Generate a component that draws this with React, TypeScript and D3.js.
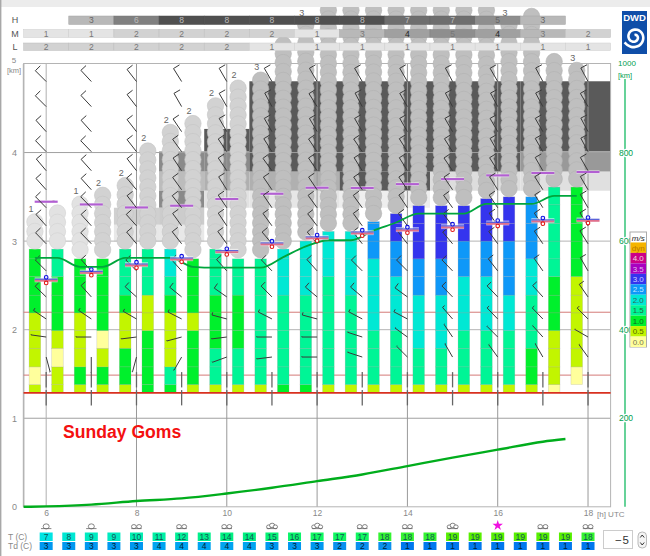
import React, { useRef, useEffect } from 'react';
import * as d3 from 'd3';

// half-hourly columns, 5:45 to 17:45 UTC
const columnHours = d3.range(25).map(i => 5.75 + i * 0.5);
const barbHours = d3.range(6, 19);

// cloud cover rows (octas), one value per hour from 6 UTC
const highCover = [null, 3, 6, 8, 8, 8, 8, 8, 7, 7, 5, 3, null];
const midCover = [1, 1, 2, 2, 2, 2, 1, 3, 4, 5, 4, 3, 2];
const lowCover = [2, 2, 2, 2, 2, 1, 1, 1, 1, 1, 1, 1, 1];

// climb rate classes in m/s per column, from the ground upwards
const levelEdges = [1.29, 1.38, 1.58, 1.79, 1.99, 2.19, 2.39, 2.6, 2.8, 3.0, 3.2, 3.41, 3.61, 3.81];
const climbRates: (number | null)[][] = [
  [0.5, 0, 0.5, 0.5, 0.5, 1, 1, 1, 1],
  [0.5, 0.5, 0, 0.5, 1, 1, 1, 1.5, 1.5],
  [0.5, 1, 0.5, 0.5, 0.5, 1, 1, 1],
  [0.5, 1, 0.5, 0, 1, 1, 1, 1],
  [0.5, 1, 1, 0.5, 0.5, 1, 1.5, 1.5, 1.5],
  [1, 1, 1, 1, 0.5, 0.5, 1.5, 1.5, 1.5],
  [1, 1.5, 0.5, 0.5, 0.5, 1, 1.5, 2, 2],
  [0.5, 1, 1, 1, 0.5, 1, 1, 1],
  [0.5, 1.5, 1.5, 1, 1, 1, 1.5, 1.5, 1.5],
  [0.5, 1.5, 1.5, 1, 1, 1, 1.5, 1.5],
  [0.5, 1.5, 1.5, 1.5, 1.5, 1.5, 1.5, 1.5],
  [1, 1.5, 1.5, 1.5, 1.5, 1.5, 2, 2, 2],
  [1, 1.5, 1.5, 1.5, 1.5, 1.5, 2, 2, 2],
  [0.5, 1.5, 1.5, 1.5, 1.5, 1.5, 1.5, 2, 2, 2],
  [0.5, 1.5, 1.5, 1.5, 1.5, 1.5, 2, 2, 2, 2],
  [0.5, 1.5, 1.5, 1.5, 2, 2, 2, 2, 2.5, 2.5, 2.5],
  [0.5, 1.5, 1.5, 1.5, 2, 2, 2, 2.5, 2.5, 3, 3],
  [0.5, 1.5, 1.5, 2, 2, 2, 2.5, 2.5, 3, 3, 3],
  [0.5, 1.5, 1.5, 2, 2, 2, 2.5, 2.5, 3, 3, 3],
  [0.5, 1.5, 1.5, 1.5, 2, 2, 2, 2.5, 2.5, 3, 3],
  [0.5, 1.5, 1.5, 1.5, 2, 2, 2, 2.5, 2.5, 3, 3, 3],
  [0.5, 1.5, 1.5, 1.5, 2, 2, 2.5, 2.5, 2.5, 3, 3, 3],
  [0.5, 1, 1, 1.5, 1.5, 1.5, 2, 2, 2.5, 2.5, 2.5, 2.5],
  [0, 0.5, 0.5, 0.5, 1, 1, 1, 1.5, 1.5, 1.5, 1.5, 1.5],
  [null, 0, 0.5, 0.5, 0.5, 0.5, 0.5, 1, 1, 1, 1, 1],
];
const barTops = [2.91, 2.91, 2.81, 2.81, 2.91, 2.91, 2.91, 2.81, 2.91, 2.81, 2.81, 2.91, 3.01, 3.11, 3.11, 3.22, 3.31, 3.4, 3.4, 3.4, 3.48, 3.5, 3.5, 3.61, 3.61];

// cumulus stacks on top of the bars
const cloudTops = [3.31, 3.41, 3.51, 3.61, 3.72, 4.11, 4.32, 4.42, 4.62, 4.82, 4.91, 5.31, 5.53, 5.7, 5.7, 5.7, 5.7, 5.7, 5.7, 5.7, 5.7, 5.53, 5.63, 5.12, 5.02];
const cloudClass = [1, 1, 1, 2, 2, 2, 2, 2, 2, 2, 3, 3, 3, 3, 3, 3, 3, 3, 3, 3, 3, 3, 3, 3, 3];
const cloudLabels = ['1', '-', '1', '2', '2', '2', '2', '2', '2', '2', '3', '-', '3', '', '', '', '', '', '', '', '', '3', '', '-', '3'];

// layered cloud bands behind the stacks (hours, km, shade)
const bandStart = [7.5, 7.5, 8.5, 8.5, 8.5, 8.5, 8.5, 9.5, 9.5, 9.5, 9.5, 10.5, 10.5, 10.5, 12.5, 12.5, 14.5, 14.5, 16.5, 16.5, 16.5];
const bandEnd = [8.5, 8.5, 9.5, 9.5, 9.5, 9.5, 9.5, 10.5, 10.5, 10.5, 10.5, 14.5, 12.5, 12.5, 14.5, 14.5, 16.5, 16.5, 18.5, 18.5, 18.5];
const bandTop = [3.377, 3.184, 4.013, 3.784, 3.569, 3.377, 3.184, 4.267, 4.013, 3.784, 3.569, 4.805, 3.784, 3.569, 3.784, 3.569, 4.805, 3.784, 4.805, 4.013, 3.784];
const bandBottom = [3.184, 2.995, 3.784, 3.569, 3.377, 3.184, 2.995, 4.013, 3.784, 3.569, 3.377, 3.784, 3.569, 3.377, 3.569, 3.377, 3.784, 3.569, 4.013, 3.784, 3.569];
const bandShade = ['#d0d0d0', '#e8e8e8', '#8a8a8a', '#bcbcbc', '#8a8a8a', '#cccccc', '#e8e8e8', '#5a5a5a', '#8a8a8a', '#b0b0b0', '#e2e2e2', '#5a5a5a', '#b0b0b0', '#e6e6e6', '#5a5a5a', '#eeeeee', '#5a5a5a', '#dddddd', '#5a5a5a', '#999999', '#e0e0e0'];

// hourly levels
const topLevels = [3.445, 3.414, 3.38, 3.4, 3.475, 3.535, 3.603, 3.6, 3.643, 3.7, 3.742, 3.769, 3.78];
const baseLevels = [2.557, 2.645, 2.728, 2.796, 2.879, 2.966, 3.034, 3.09, 3.124, 3.158, 3.199, 3.226, 3.233];
const boundaryHeight = [2.81, 2.81, 2.71, 2.71, 2.81, 2.81, 2.81, 2.71, 2.7, 2.7, 2.7, 2.82, 2.94, 3.01, 3.01, 3.12, 3.21, 3.31, 3.31, 3.31, 3.42, 3.42, 3.42, 3.51, 3.51];

// distance flown, right hand axis
const distanceHours = [5.5, 6, 7, 8, 9, 10, 11, 12, 13, 14, 15, 16, 17, 17.5];
const distanceKm = [0, 1, 5, 13, 19, 30, 43, 58, 73, 92, 111, 129, 147, 153];

// wind barbs: compass direction per hour, from the lowest level upwards
const barbLevels = [1.318, 1.521, 1.691, 1.917, 2.121, 2.37, 2.664, 2.97, 3.173, 3.377, 3.58, 3.795, 4.01, 4.236, 4.519, 4.802];
const barbSpeeds = [0, 0, 1, 1, 4, 8, 9, 10, 10, 10, 10, 10, 10, 10, 10, 10];
const barbDirs = [
  [180, 180, 165, 278, 304, 314, 315, 316, 318, 316, 318, 320, 316, 318, 315, 315],
  [180, 180, 180, 270, 304, 318, 318, 316, 318, 316, 318, 318, 316, 318, 317, 317],
  [180, 180, 195, 263, 300, 312, 316, 320, 318, 322, 320, 322, 322, 322, 322, 322],
  [180, 180, 210, 255, 297, 309, 318, 322, 324, 322, 324, 326, 324, 326, 330, 328],
  [180, 180, 250, 263, 285, 305, 318, 324, 326, 326, 328, 326, 326, 330, 330, 330],
  [180, 180, 263, 270, 297, 315, 316, 320, 324, 326, 326, 324, 328, 330, 332, 330],
  [180, 180, 270, 270, 285, 310, 318, 320, 322, 324, 326, 326, 326, 330, 328, 330],
  [180, 180, 288, 288, 298, 310, 315, 322, 324, 324, 326, 328, 326, 330, 332, 330],
  [180, 180, 315, 306, 298, 306, 315, 322, 324, 326, 326, 328, 328, 330, 330, 330],
  [180, 180, 330, 326, 319, 316, 316, 320, 322, 324, 326, 326, 328, 330, 332, 332],
  [180, 180, 324, 315, 316, 316, 322, 324, 326, 326, 328, 328, 330, 330, 332, 330],
  [180, 180, 330, 318, 316, 318, 325, 326, 326, 328, 328, 330, 330, 330, 332, 332],
  [180, 180, 324, 300, 315, 325, 330, 328, 328, 330, 330, 330, 332, 332, 330, 332],
];

// bottom table
const hourLabels = [6, 8, 10, 12, 14, 16, 18];
const skyIcons = [1, 1, 2, 2, 2, 3, 3, 2, 2, 3, 0, 2, 2];
const temperature = [7, 8, 9, 9, 10, 11, 12, 13, 14, 14, 15, 16, 17, 17, 17, 18, 18, 18, 19, 19, 19, 19, 19, 19, 18];
const dewPoint = [3, 3, 3, 3, 3, 4, 4, 4, 4, 4, 3, 3, 3, 2, 2, 2, 1, 1, 1, 1, 1, 1, 1, 1, 1];

const legendLabels = ['dyn', '4.0', '3.5', '3.0', '2.5', '2.0', '1.5', '1.0', '0.5', '0.0'];
const legendColors = ['#f5b400', '#cc0088', '#a800c0', '#3434ee', '#0e98f8', '#00e8d4', '#00f596', '#00f02c', '#c2f500', '#ffff9c'];
const legendText = ['#b87a00', '#eedddd', '#ddbbee', '#ccccff', '#bfe6ff', '#336655', '#226644', '#116622', '#556600', '#777755'];

const SANS = '"Liberation Sans", Arial, sans-serif';
const GREEN = '#00b455';

export default function App() {
  const svgRef = useRef<SVGSVGElement>(null);

  useEffect(() => {
    if (!svgRef.current) return;
    const svg = d3.select(svgRef.current);
    svg.selectAll('*').remove();

    const x = d3.scaleLinear().domain([5.5, 18.5]).range([23.6, 610.6]);
    const y = d3.scaleLinear().domain([0, 5]).range([506.8, 64]);
    const yDist = d3.scaleLinear().domain([0, 1000]).range([506.8, 64]);
    const climbColor = d3.scaleOrdinal<number, string>()
      .domain([4, 3.5, 3, 2.5, 2, 1.5, 1, 0.5, 0])
      .range(legendColors.slice(1));
    const coverShade = d3.scaleLinear<string>().domain([1, 2, 3, 4, 5, 6, 7, 8]).range(['#e4e4e4', '#d2d2d2', '#b8b8b8', '#a0a0a0', '#8e8e8e', '#808080', '#6e6e6e', '#505050']);
    const stackFill = d3.scaleOrdinal<number, string>().domain([1, 2, 3]).range(['#e2e2e2', '#d2d2d2', '#bfbfbf']);
    const tempColor = d3.scaleLinear<string>().domain([7, 10, 14, 17, 19]).range(['#00e4e4', '#00eeb0', '#00f080', '#10f860', '#58f000']);
    const dewColor = d3.scaleLinear<string>().domain([1, 2, 3, 4]).range(['#0078ee', '#0a90ee', '#0098f0', '#00a4f0']);
    const speedToFeather = d3.scaleLinear().domain([0, 10]).range([0, 7]);

    svg.append('rect').attr('width', 650).attr('height', 556).attr('fill', '#fff');

    // cloud bands
    svg.append('g').selectAll('rect').data(bandStart).enter().append('rect')
      .attr('x', d => x(d))
      .attr('width', (d, i) => x(bandEnd[i]) - x(d))
      .attr('y', (d, i) => y(bandTop[i]))
      .attr('height', (d, i) => y(bandBottom[i]) - y(bandTop[i]))
      .attr('fill', (d, i) => bandShade[i]);

    // grid
    const grid = svg.append('g').attr('fill', 'none');
    [1, 2, 3, 4].forEach(k => {
      grid.append('line').attr('x1', x(5.5)).attr('x2', x(18.5)).attr('y1', y(k)).attr('y2', y(k))
        .attr('stroke', k === 2 || k === 3 ? '#b4b4b4' : '#a0a0a0');
    });
    hourLabels.forEach(h => {
      grid.append('line').attr('x1', x(h)).attr('x2', x(h)).attr('y1', y(5)).attr('y2', y(0))
        .attr('stroke', h === 6 ? '#b0b0b0' : '#999').attr('stroke-width', 1);
    });
    grid.append('rect').attr('x', x(5.5)).attr('y', y(5) - 0.5).attr('width', x(18.5) - x(5.5)).attr('height', y(0) - y(5) + 0.5)
      .attr('stroke', '#b4b4b4');
    grid.append('line').attr('x1', x(5.5)).attr('x2', x(5.5)).attr('y1', y(5)).attr('y2', y(0)).attr('stroke', '#b4b4b4').attr('stroke-width', 1.6);
    [1.487, 2.197].forEach(k => {
      grid.append('line').attr('x1', x(5.5)).attr('x2', x(18.5)).attr('y1', y(k)).attr('y2', y(k)).attr('stroke', '#d47a78');
    });

    // climb rate bars
    const barW = 11.6;
    const bars = svg.append('g');
    climbRates.forEach((cells, c) => {
      cells.forEach((rate, k) => {
        if (rate === null) return;
        const top = Math.min(levelEdges[k + 1], barTops[c]);
        bars.append('rect')
          .attr('x', x(columnHours[c]) - barW / 2)
          .attr('width', barW)
          .attr('y', y(top))
          .attr('height', y(levelEdges[k]) - y(top))
          .attr('fill', climbColor(rate))
          .attr('stroke', 'rgba(150,150,150,0.35)')
          .attr('stroke-width', 0.6);
      });
    });
    svg.append('line').attr('x1', x(5.5)).attr('x2', x(18.5)).attr('y1', y(1.287)).attr('y2', y(1.287))
      .attr('stroke', '#d8301f').attr('stroke-width', 1.8);

    // cumulus stacks
    const r = 8.2;
    const clouds = svg.append('g');
    columnHours.forEach((h, c) => {
      const yTop = y(cloudTops[c]) + r;
      const yBase = y(barTops[c]) - r;
      const n = Math.max(1, Math.round((yBase - yTop) / 9));
      const fill = stackFill(cloudClass[c]);
      const rim = d3.color(fill)!.darker(0.2).formatHex();
      d3.range(n + 1).forEach(i => {
        clouds.append('circle')
          .attr('cx', x(h))
          .attr('cy', yTop + (yBase - yTop) * i / n)
          .attr('r', r)
          .attr('fill', fill)
          .attr('stroke', rim)
          .attr('stroke-width', 0.6);
      });
      if (cloudLabels[c]) {
        clouds.append('text').attr('x', x(h) - 4).attr('y', yTop - r - 1.5).attr('text-anchor', 'middle')
          .attr('font-family', SANS).attr('font-size', 9).attr('fill', '#666').text(cloudLabels[c]);
      }
    });

    // cover rows
    const rows: [string, (number | null)[], number, number][] = [
      ['H', highCover, 16, 8.5],
      ['M', midCover, 29.5, 8],
      ['L', lowCover, 43, 7.5],
    ];
    rows.forEach(([name, values, top, h]) => {
      const row = svg.append('g');
      row.append('text').attr('x', 15).attr('y', top + h / 2 + 3.2).attr('text-anchor', 'middle')
        .attr('font-family', SANS).attr('font-size', 9).attr('fill', '#555').text(name);
      values.forEach((v, i) => {
        if (v === null) return;
        const hour = barbHours[i];
        row.append('rect').attr('x', x(hour - 0.5)).attr('width', x(hour + 0.5) - x(hour - 0.5)).attr('y', top).attr('height', h)
          .attr('fill', coverShade(v)).attr('stroke', d3.color(coverShade(v))!.darker(0.3).formatHex()).attr('stroke-width', 0.5);
        row.append('text').attr('x', x(hour)).attr('y', top + h / 2 + 3).attr('text-anchor', 'middle')
          .attr('font-family', SANS).attr('font-size', 8.5)
          .attr('fill', name === 'H' ? (v >= 6 ? '#bbb' : '#666') : (v === 4 ? '#222' : '#777')).text(v);
      });
    });

    // thermal top lines
    const hourly = svg.append('g');
    topLevels.forEach((v, i) => {
      const h = barbHours[i];
      hourly.append('line').attr('x1', x(h) - 11.5).attr('x2', x(h) + 11.5).attr('y1', y(v)).attr('y2', y(v))
        .attr('stroke', '#fff').attr('stroke-opacity', 0.6).attr('stroke-width', 3.6);
      hourly.append('line').attr('x1', x(h) - 11.5).attr('x2', x(h) + 11.5).attr('y1', y(v)).attr('y2', y(v))
        .attr('stroke', '#b25fd2').attr('stroke-width', 2.2);
    });

    // wind barbs
    const barbs = svg.append('g').attr('fill', 'none').attr('stroke', '#3a3a3a').attr('stroke-width', 1);
    barbDirs.forEach((dirs, i) => {
      dirs.forEach((dir, k) => {
        const a = (dir * Math.PI) / 180;
        const x0 = x(barbHours[i]);
        const y0 = y(barbLevels[k]);
        const x1 = x0 + 15.3 * Math.sin(a);
        const y1 = y0 - 15.3 * Math.cos(a);
        const f = speedToFeather(barbSpeeds[k]);
        const path = d3.path();
        path.moveTo(x0, y0);
        path.lineTo(x1, y1);
        path.lineTo(x1 + f * Math.cos(a), y1 + f * Math.sin(a));
        barbs.append('path').attr('d', path.toString())
          .attr('stroke', dir === 180 ? '#666' : '#3a3a3a')
          .attr('stroke-width', dir === 180 ? 1.3 : 1);
      });
    });

    // boundary layer height
    const boundaryLine = d3.line<number>()
      .x((d, i) => x(columnHours[i]))
      .y(d => y(d))
      .curve(d3.curveMonotoneX);
    svg.append('path').attr('d', boundaryLine(boundaryHeight)).attr('fill', 'none').attr('stroke', '#00a53c').attr('stroke-width', 1.8);

    // base markers
    baseLevels.forEach((v, i) => {
      const h = barbHours[i];
      const m = svg.append('g');
      m.append('rect').attr('x', x(h) - 11.5).attr('y', y(v) - 3).attr('width', 23).attr('height', 5).attr('fill', '#fff').attr('fill-opacity', 0.55);
      m.append('line').attr('x1', x(h) - 11.5).attr('x2', x(h) + 11.5).attr('y1', y(v) - 1.1).attr('y2', y(v) - 1.1).attr('stroke', '#5a62d8').attr('stroke-width', 1.4);
      m.append('line').attr('x1', x(h) - 11.5).attr('x2', x(h) + 11.5).attr('y1', y(v) + 0.4).attr('y2', y(v) + 0.4).attr('stroke', '#e0708c').attr('stroke-width', 1.8);
      m.append('circle').attr('cx', x(h)).attr('cy', y(v) - 3).attr('r', 1.8).attr('fill', '#dfe3ff').attr('stroke', '#1010e0').attr('stroke-width', 1.1);
      m.append('circle').attr('cx', x(h)).attr('cy', y(v) + 2.6).attr('r', 1.8).attr('fill', '#fff').attr('stroke', '#e01818').attr('stroke-width', 1.1);
    });

    // distance curve
    const distanceLine = d3.line<number>()
      .x((d, i) => x(distanceHours[i]))
      .y(d => yDist(d))
      .curve(d3.curveMonotoneX);
    svg.append('path').attr('d', distanceLine(distanceKm)).attr('fill', 'none').attr('stroke', '#00ad1c').attr('stroke-width', 2.4);

    svg.append('text').attr('x', 63).attr('y', 438).attr('font-family', SANS).attr('font-weight', 'bold')
      .attr('font-size', 17.6).attr('fill', '#f41010').text('Sunday Goms');

    // left axis
    const leftAxis = svg.append('g').attr('transform', 'translate(20,0)')
      .call(d3.axisLeft(y).tickValues([0, 1, 2, 3, 4]).tickSize(0).tickFormat(d3.format('d')));
    leftAxis.select('.domain').remove();
    leftAxis.selectAll('text').attr('font-family', SANS).attr('font-size', 9).attr('fill', '#888');
    svg.append('text').attr('x', 14).attr('y', 63).attr('text-anchor', 'middle').attr('font-family', SANS).attr('font-size', 8).attr('fill', '#888').text('5');
    svg.append('text').attr('x', 14).attr('y', 73).attr('text-anchor', 'middle').attr('font-family', SANS).attr('font-size', 7.5).attr('fill', '#888').text('[km]');

    // right axis
    svg.append('line').attr('x1', 625).attr('x2', 625).attr('y1', 79).attr('y2', y(0)).attr('stroke', GREEN).attr('stroke-width', 1.2);
    const rightAxis = svg.append('g').attr('transform', 'translate(625,0)')
      .call(d3.axisRight(yDist).tickValues([200, 400, 600, 800]).tickSize(0).tickPadding(0));
    rightAxis.select('.domain').remove();
    rightAxis.selectAll('text').attr('x', 1).attr('text-anchor', 'middle').attr('font-family', SANS).attr('font-size', 8.5)
      .attr('fill', '#00a050').attr('stroke', '#fff').attr('stroke-width', 2.5).attr('paint-order', 'stroke');
    svg.append('text').attr('x', 627).attr('y', 66).attr('text-anchor', 'middle').attr('font-family', SANS).attr('font-size', 8).attr('fill', '#00a050').text('1000');
    svg.append('text').attr('x', 625).attr('y', 78).attr('text-anchor', 'middle').attr('font-family', SANS).attr('font-size', 7.5).attr('fill', '#00a050').text('[km]');

    // legend
    const legend = svg.append('g').attr('font-family', SANS).attr('font-size', 8).attr('text-anchor', 'middle');
    const legendRow = d3.scaleBand<number>().domain(d3.range(legendLabels.length + 1)).range([232, 347]);
    legend.append('rect').attr('x', 630).attr('y', 232).attr('width', 16.5).attr('height', 115).attr('fill', '#fff').attr('stroke', '#aaa');
    legend.append('text').attr('x', 638.2).attr('y', 241).attr('font-style', 'italic').attr('fill', '#222').text('m/s');
    legendLabels.forEach((label, i) => {
      legend.append('rect').attr('x', 630.5).attr('y', legendRow(i + 1)!).attr('width', 15.5).attr('height', legendRow.bandwidth()).attr('fill', legendColors[i]);
      legend.append('text').attr('x', 638.2).attr('y', legendRow(i + 1)! + 8.2).attr('fill', legendText[i]).text(label);
    });

    // time axis
    const timeAxis = svg.append('g').attr('transform', 'translate(0,510)')
      .call(d3.axisBottom(x).tickValues(hourLabels).tickSize(0).tickPadding(0).tickFormat(d3.format('d')));
    timeAxis.select('.domain').remove();
    timeAxis.selectAll('text').attr('font-family', SANS).attr('font-size', 8.5).attr('fill', '#888');
    svg.append('text').attr('x', 597).attr('y', 517).attr('font-family', SANS).attr('font-size', 8).attr('fill', '#888').text('[h] UTC');

    // sky icons
    const sky = svg.append('g').attr('fill', '#fff').attr('stroke', '#666').attr('stroke-width', 0.8);
    skyIcons.forEach((kind, i) => {
      const cx = x(barbHours[i]);
      if (kind === 0) {
        sky.append('path').attr('transform', `translate(${cx},525.5)`)
          .attr('d', d3.symbol(d3.symbolStar, 34)()).attr('fill', '#f010e0').attr('stroke', 'none');
        return;
      }
      const lobes = kind === 1 ? [[0, 1, 3]] : kind === 2 ? [[-2.6, 1.2, 2.4], [2.6, 1.2, 2.4]] : [[-3.2, 1.4, 2.2], [0.2, 0, 2.6], [3.4, 1.4, 2.2]];
      lobes.forEach(([dx, dy, rad]) => {
        sky.append('ellipse').attr('cx', cx + dx).attr('cy', 525.4 + dy).attr('rx', rad).attr('ry', rad * 0.85);
      });
      sky.append('line').attr('x1', cx - 5.2).attr('x2', cx + 5.2).attr('y1', 528.6).attr('y2', 528.6);
    });

    // T and Td table
    const table = svg.append('g').attr('font-family', SANS).attr('font-size', 8.5).attr('text-anchor', 'middle');
    table.append('text').attr('x', 8).attr('y', 540).attr('text-anchor', 'start').attr('fill', '#888').text('T  (C)');
    table.append('text').attr('x', 8).attr('y', 549).attr('text-anchor', 'start').attr('fill', '#888').text('Td (C)');
    temperature.forEach((t, i) => {
      const cx = x(6 + i * 0.5);
      table.append('rect').attr('x', cx - 6.5).attr('y', 532.5).attr('width', 13).attr('height', 8.5).attr('fill', tempColor(t));
      table.append('text').attr('x', cx).attr('y', 540).attr('fill', '#155').text(t);
      table.append('rect').attr('x', cx - 6.5).attr('y', 542).attr('width', 13).attr('height', 8).attr('fill', dewColor(dewPoint[i]));
      table.append('text').attr('x', cx).attr('y', 549.3).attr('fill', '#023').text(dewPoint[i]);
    });

    // spinner
    svg.append('rect').attr('x', 603.5).attr('y', 530.5).attr('width', 29).attr('height', 18).attr('fill', '#fff').attr('stroke', '#ccc');
    svg.append('text').attr('x', 630).attr('y', 544).attr('text-anchor', 'end').attr('font-family', SANS).attr('font-size', 11.5).attr('letter-spacing', 1).attr('fill', '#333').text('−5');
    svg.append('rect').attr('x', 638).attr('y', 532).attr('width', 8.5).attr('height', 16).attr('rx', 4).attr('fill', '#f4f4f4').attr('stroke', '#aaa').attr('stroke-width', 0.8);
    svg.append('path').attr('d', 'M640.3 537.5 L642.2 535 L644.2 537.5 M640.3 542.5 L642.2 545 L644.2 542.5').attr('fill', 'none').attr('stroke', '#333').attr('stroke-width', 1);

    // DWD logo
    const logo = svg.append('g');
    logo.append('rect').attr('x', 622).attr('y', 11).attr('width', 25).attr('height', 43).attr('fill', '#0f4ea8');
    logo.append('text').attr('x', 634.5).attr('y', 21).attr('text-anchor', 'middle').attr('font-family', SANS).attr('font-weight', 'bold').attr('font-size', 9.5).attr('fill', '#fff').text('DWD');
    const swirl = d3.lineRadial<number>().angle(d => d).radius(d => 2 + d * 0.88).curve(d3.curveBasis);
    logo.append('path').attr('transform', 'translate(634.5,37)').attr('d', swirl(d3.range(0, 10.5, 0.35)))
      .attr('fill', 'none').attr('stroke', '#fff').attr('stroke-width', 2.6);

    // page frame
    svg.append('rect').attr('width', 650).attr('height', 7).attr('fill', '#ececec');
    svg.append('rect').attr('width', 1.4).attr('height', 556).attr('fill', '#a8a8a8');
  }, []);

  return (
    <svg
      ref={svgRef}
      width={650}
      height={556}
      viewBox="0 0 650 556"
      style={{ position: 'absolute', left: 0, top: 0, display: 'block', opacity: 0.999 }}
    />
  );
}
